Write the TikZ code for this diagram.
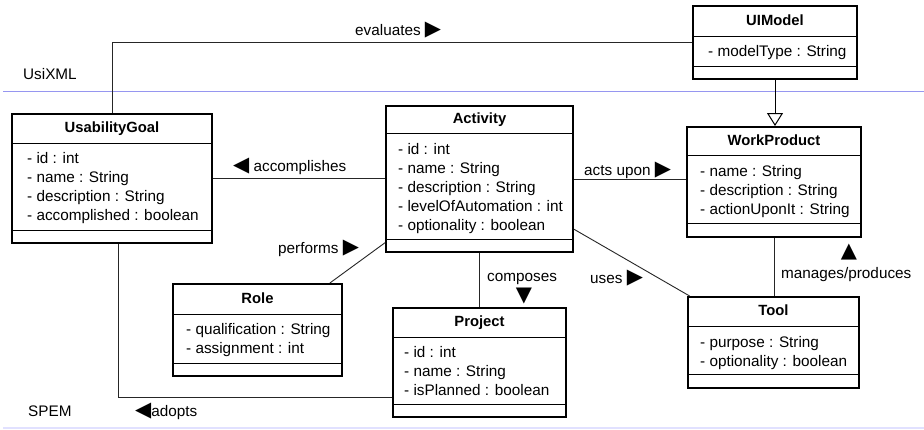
\documentclass[tikz,border=0pt]{standalone}
\usepackage{fontspec}
\setmainfont{Liberation Sans}
\newfontfamily\symfont{DejaVu Sans}
\usetikzlibrary{arrows.meta}

\definecolor{pkgline}{RGB}{150,150,240}
\definecolor{pkgfaint}{RGB}{225,225,255}
\newcommand{\tri}[1]{{\symfont\fontsize{21}{21}\selectfont #1}}

\tikzset{
  classbox/.style={draw, line width=2pt, inner sep=0pt},
  classsep/.style={line width=1pt},
  classtitle/.style={font=\fontsize{14.8}{19}\selectfont\bfseries, inner sep=0pt, text height=11pt, text depth=3pt},
  attr/.style={font=\fontsize{15.3}{19}\selectfont, anchor=west, inner sep=0pt, text height=11pt, text depth=2pt},
  lbl/.style={font=\fontsize{15.3}{19}\selectfont, anchor=west, inner sep=0pt, text height=11pt, text depth=2pt},
  assoc/.style={line width=0.9pt, draw=black!85},
  gen/.style={line width=0.9pt, -{Triangle[open, length=13pt, width=16pt, line width=1pt]}}
}

\begin{document}
\begin{tikzpicture}[x=1pt, y=-1pt]
  \fill[white] (0,0) rectangle (924,429);
  \useasboundingbox (0,0) rectangle (924,429);

  % package borders
  \draw[pkgline, line width=1pt] (3,91) -- (924,91);
  \draw[pkgfaint, line width=1.5pt] (3,428) -- (924,428);
  \node[lbl] (usixml) at (23,75) {UsiXML};
  \node[lbl] (spem) at (28,412) {SPEM};

  % UIModel
  \node[classbox, minimum width=164, minimum height=73] (uimodel) at (775,42.5) {};
  \node[classtitle] (uimodeltitle) at (775,21) {UIModel};
  \draw[classsep] (uimodel.west |- 0,36) -- (uimodel.east |- 0,36);
  \draw[classsep] (uimodel.west |- 0,66) -- (uimodel.east |- 0,66);
  \node[attr] (uimodel-1) at (708,52) {- modelType : String};

  % UsabilityGoal
  \node[classbox, minimum width=200, minimum height=129] (goal) at (112,178.5) {};
  \node[classtitle] (goaltitle) at (112,128.5) {UsabilityGoal};
  \draw[classsep] (goal.west |- 0,143) -- (goal.east |- 0,143);
  \draw[classsep] (goal.west |- 0,230) -- (goal.east |- 0,230);
  \foreach \a [count=\i] in {- id : int, - name : String, - description : String, - accomplished : boolean}
    \node[attr] (goal-\i) at (27,{140+19*\i}) {\a};

  % Activity
  \node[classbox, minimum width=187, minimum height=146] (activity) at (479.5,179) {};
  \node[classtitle] (activitytitle) at (479.5,119.5) {Activity};
  \draw[classsep] (activity.west |- 0,133) -- (activity.east |- 0,133);
  \draw[classsep] (activity.west |- 0,239) -- (activity.east |- 0,239);
  \foreach \a [count=\i] in {- id : int, - name : String, - description : String, - levelOfAutomation : int, - optionality : boolean}
    \node[attr] (activity-\i) at (398,{131+19*\i}) {\a};

  % WorkProduct
  \node[classbox, minimum width=174, minimum height=110] (workproduct) at (774,182) {};
  \node[classtitle] (workproducttitle) at (774,141) {WorkProduct};
  \draw[classsep] (workproduct.west |- 0,155) -- (workproduct.east |- 0,155);
  \draw[classsep] (workproduct.west |- 0,223) -- (workproduct.east |- 0,223);
  \foreach \a [count=\i] in {- name : String, - description : String, - actionUponIt : String}
    \node[attr] (workproduct-\i) at (700,{153+19*\i}) {\a};

  % Role
  \node[classbox, minimum width=169, minimum height=92] (role) at (257.5,330) {};
  \node[classtitle] (roletitle) at (257.5,299) {Role};
  \draw[classsep] (role.west |- 0,314) -- (role.east |- 0,314);
  \draw[classsep] (role.west |- 0,363) -- (role.east |- 0,363);
  \foreach \a [count=\i] in {- qualification : String, - assignment : int}
    \node[attr] (role-\i) at (186,{311+19*\i}) {\a};

  % Project
  \node[classbox, minimum width=173, minimum height=109] (project) at (479.5,362.5) {};
  \node[classtitle] (projecttitle) at (479.5,322.5) {Project};
  \draw[classsep] (project.west |- 0,337) -- (project.east |- 0,337);
  \draw[classsep] (project.west |- 0,404) -- (project.east |- 0,404);
  \foreach \a [count=\i] in {- id : int, - name : String, - isPlanned : boolean}
    \node[attr] (project-\i) at (404,{334+19*\i}) {\a};

  % Tool
  \node[classbox, minimum width=171, minimum height=91] (tool) at (773.5,342.5) {};
  \node[classtitle] (tooltitle) at (773.5,311.5) {Tool};
  \draw[classsep] (tool.west |- 0,326) -- (tool.east |- 0,326);
  \draw[classsep] (tool.west |- 0,374) -- (tool.east |- 0,374);
  \foreach \a [count=\i] in {- purpose : String, - optionality : boolean}
    \node[attr] (tool-\i) at (700,{324+19*\i}) {\a};

  % associations
  \draw[assoc] (goal.north) |- (uimodel.west);
  \node[lbl] (lblevaluates) at (355,31) {evaluates \tri{▶}};

  \draw[gen] (uimodel.south) -- (uimodel.south |- workproduct.north);

  \draw[assoc] (goal.east) -- (goal.east -| activity.west);
  \node[lbl] (lblaccomplishes) at (233,167) {\tri{◀} accomplishes};

  \draw[assoc] (activity.east) -- (activity.east -| workproduct.west);
  \node[lbl] (lblactsupon) at (584,171) {acts upon \tri{▶}};

  \draw[assoc] (role.33) -- (activity.214);
  \node[lbl] (lblperforms) at (278,249) {performs \tri{▶}};

  \draw[assoc] (activity.south) -- (project.north);
  \node[lbl] (lblcomposes) at (487,277) {composes};
  \node[inner sep=0pt] (arrcomposes) at (524,296) {\tri{▼}};

  \draw[assoc] (activity.-28.6) -- (tool.151);
  \node[lbl] (lbluses) at (590,279) {uses \tri{▶}};

  \draw[assoc] (workproduct.south) -- (workproduct.south |- tool.north);
  \node[lbl] (lblmanages) at (781,274) {manages/produces};
  \node[inner sep=0pt] (arrmanages) at (849,252) {\tri{▲}};

  \coordinate (adoptcorner) at (118,397);
  \draw[assoc] (goal.south -| adoptcorner) -- (adoptcorner) -- (adoptcorner -| project.west);
  \node[lbl] (lbladopts) at (135,412) {\tri{◀}adopts};
\end{tikzpicture}
\end{document}
